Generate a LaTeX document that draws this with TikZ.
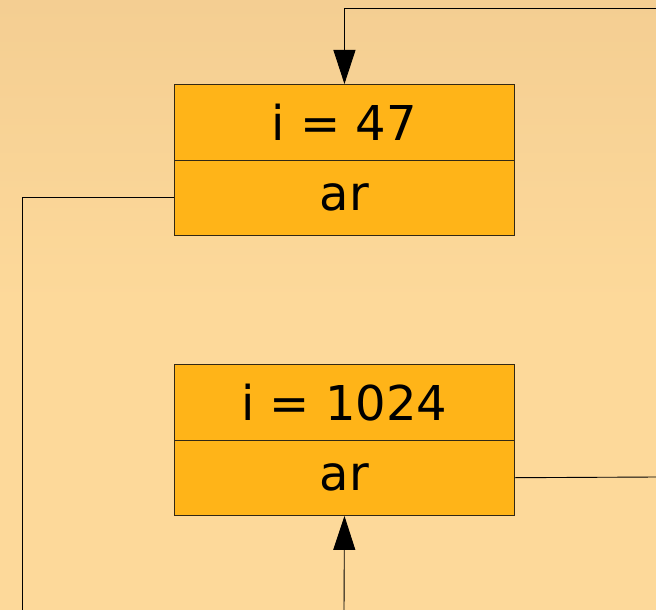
\documentclass[tikz,border=0pt]{standalone}
\usepackage{fontspec}
\setmainfont{DejaVu Sans}
\usetikzlibrary{arrows.meta}
\definecolor{bgtop}{RGB}{244,206,146}
\definecolor{bgbot}{RGB}{253,217,154}
\definecolor{boxfill}{RGB}{255,180,24}
\definecolor{boxline}{RGB}{50,40,20}
\begin{document}
\begin{tikzpicture}[x=1pt,y=-1pt,
  cell/.style={draw=boxline,line width=0.9pt,fill=boxfill,minimum width=340pt,minimum height=75.5pt,inner sep=0pt,font=\fontsize{48}{52}\selectfont,anchor=north west},
  link/.style={draw=black,line width=0.9pt},
  tip/.style={-{Triangle[length=34pt,width=22pt]}}]
\shade[top color=bgtop,bottom color=bgbot,middle color=bgbot,shading angle=0] (0,0) rectangle (656,610);
\useasboundingbox (0,0) rectangle (656,610);
\node[cell] (b1t) at (174,84) {i = 47};
\node[cell] (b1b) at (174,159.5) {ar};
\node[cell] (b2t) at (174,364) {i = 1024};
\node[cell] (b2b) at (174,439.5) {ar};
\coordinate (tr) at (657,8);
\coordinate (bl) at (22,611);
\coordinate (br) at (657,477);
\coordinate (bb) at (344,611);
\draw[link,tip] (tr) -| (b1t.north);
\draw[link] (b1b.west) -| (bl);
\draw[link] (b2b.east) -- (br);
\draw[link,tip] (bb) -- (b2b.south);
\end{tikzpicture}
\end{document}
